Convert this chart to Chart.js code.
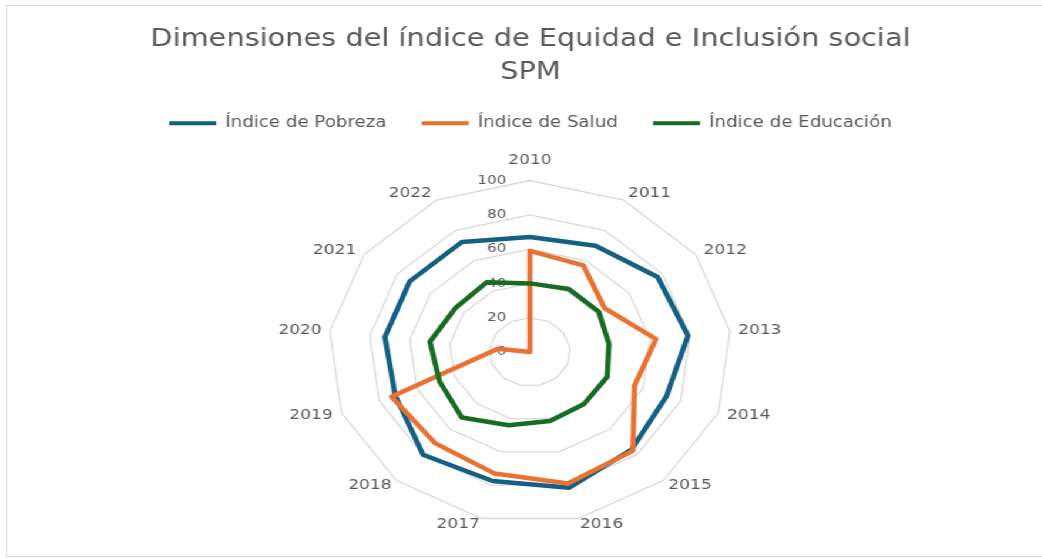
<!DOCTYPE html>
<html lang="es">
<head>
<meta charset="utf-8">
<title>Dimensiones del índice de Equidad e Inclusión social SPM</title>
<script src="https://cdn.jsdelivr.net/npm/chart.js@4.4.1/dist/chart.umd.min.js"></script>
<style>
  html, body { margin: 0; padding: 0; background: #fff; overflow: hidden; }
  body { width: 1042px; height: 559px; position: relative; }
  /* the source picture is stretched ~1.175x horizontally, so the whole chart is too */
  #stage { position: absolute; left: 0; top: 0; width: 900px; height: 559px; transform: scaleX(1.175); transform-origin: 0 0; }
  #frame { position: absolute; left: 5px; top: 5px; width: 891px; height: 550px; border: 1px solid #d9d9d9; background: #fff; }
  canvas { display: block; }
</style>
</head>
<body>
<div id="stage">
  <div id="frame">
    <canvas id="spm-chart" width="891" height="550"></canvas>
  </div>
</div>
<script>
const years = ['2010', '2011', '2012', '2013', '2014', '2015', '2016', '2017', '2018', '2019', '2020', '2021', '2022'];
const pobreza = [67, 70, 77, 79, 72.5, 76, 81.5, 77.5, 80, 71.5, 72.5, 72.5, 72.5];
const salud = [59, 57, 45, 63, 55.5, 77, 79, 73, 71, 73.5, 16, 0, 0];
const educacion = [40, 41.5, 41.5, 39.5, 41, 40.5, 41.5, 44, 51, 48, 50, 45, 46];
const seriesNames = ['Índice de Pobreza', 'Índice de Salud', 'Índice de Educación'];
const rMin = 0, rMax = 100, rStep = 20;

const TEXT = '#595959';
Chart.defaults.font.family = '"DejaVu Sans", sans-serif';
Chart.defaults.color = TEXT;

// Excel centres the year labels on the spoke, Chart.js anchors them by an edge;
// a zero line height per label makes Chart.js centre them too
const labelPad = [14.5, 8, 8, 7, 8, 6, 6, 6, 6, 8, 7, 8, 8];
const labelLineHeight = ['12px', 0, 0, 0, 0, 0, 0, 0, 0, 0, 0, 0, 0];

// Excel puts the value labels just left of the vertical axis, "0" included
const tickLabels = {
  id: 'tickLabels',
  beforeDatasetsDraw(chart) {
    const r = chart.scales.r;
    const ctx = chart.ctx;
    ctx.save();
    ctx.font = '13px "DejaVu Sans"';
    ctx.fillStyle = TEXT;
    ctx.textAlign = 'right';
    ctx.textBaseline = 'middle';
    r.ticks.forEach(t => {
      ctx.fillText(t.label, r.xCenter - 20, r.yCenter - r.getDistanceFromCenterForValue(t.value));
    });
    ctx.restore();
  }
};

function line(label, data, color, order) {
  return {
    label,
    data,
    borderColor: color,
    backgroundColor: color,
    borderWidth: 4.5,
    borderJoinStyle: 'round',
    pointRadius: 0,
    pointHoverRadius: 0,
    fill: false,
    tension: 0,
    order
  };
}

const chart = new Chart(document.getElementById('spm-chart'), {
  type: 'radar',
  data: {
    labels: years,
    datasets: [
      // later series sit on top, as in the original
      line(seriesNames[0], pobreza, '#156082', 3),
      line(seriesNames[1], salud, '#E97132', 2),
      line(seriesNames[2], educacion, '#196B24', 1)
    ]
  },
  options: {
    responsive: false,
    animation: false,
    layout: { padding: { bottom: 19 } },
    plugins: {
      title: {
        display: true,
        text: ['Dimensiones del índice de Equidad e Inclusión social', 'SPM'],
        color: TEXT,
        font: { size: 24.5, weight: 'normal', lineHeight: '33px' },
        padding: { top: 17.5, bottom: -4 }
      },
      legend: {
        position: 'top',
        labels: {
          boxWidth: 40,
          boxHeight: 4,
          padding: 30,
          color: TEXT,
          font: { size: 15.5 },
          sort: (a, b) => a.datasetIndex - b.datasetIndex,
          generateLabels: (c) => Chart.defaults.plugins.legend.labels.generateLabels(c)
            .map(l => ({ ...l, lineWidth: 0, fillStyle: l.strokeStyle }))
        }
      },
      tooltip: { enabled: false }
    },
    scales: {
      r: {
        min: rMin,
        max: rMax,
        ticks: { stepSize: rStep, display: false },
        grid: { color: '#d9d9d9', lineWidth: 1.3 },
        angleLines: { display: false },
        pointLabels: {
          color: TEXT,
          font: (ctx) => ({ size: 14.5, lineHeight: labelLineHeight[ctx.index] }),
          padding: (ctx) => labelPad[ctx.index]
        }
      }
    }
  },
  plugins: [tickLabels]
});
</script>
</body>
</html>
